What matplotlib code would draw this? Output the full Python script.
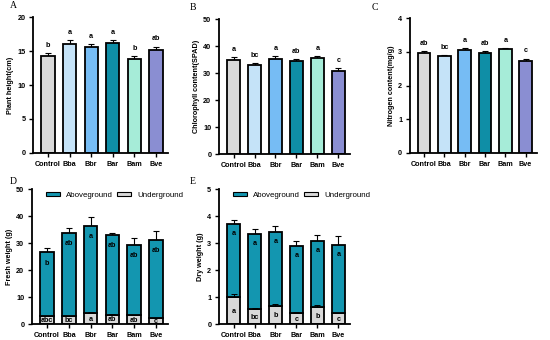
import matplotlib.pyplot as plt
import numpy as np
from matplotlib.patches import Patch

groups = ['Control', 'Bba', 'Bbr', 'Bar', 'Bam', 'Bve']
colors = ['#d9d9d9', '#c5e3f8', '#76bcf4', '#0f8ea6', '#a6ecd8', '#8a8ed2']
above_color = '#1396b0'
under_color = '#d9d9d9'

height = [14.3, 16.1, 15.6, 16.2, 13.8, 15.1]
height_err = [0.35, 0.45, 0.45, 0.45, 0.45, 0.55]
height_sig = ['b', 'a', 'a', 'a', 'b', 'ab']

chloro = [35.0, 32.8, 35.3, 34.3, 35.7, 30.7]
chloro_err = [1.0, 0.8, 1.0, 0.9, 0.7, 1.1]
chloro_sig = ['a', 'bc', 'a', 'ab', 'a', 'c']

nitro = [2.95, 2.86, 3.04, 2.97, 3.07, 2.73]
nitro_err = [0.07, 0.05, 0.06, 0.05, 0.04, 0.07]
nitro_sig = ['ab', 'bc', 'a', 'ab', 'a', 'c']

fresh_total = [26.5, 33.8, 36.4, 33.0, 29.4, 31.2]
fresh_total_err = [1.7, 1.9, 3.4, 0.9, 2.3, 3.1]
fresh_under = [3.0, 2.8, 4.0, 3.4, 3.2, 2.3]
fresh_under_err = [0.15, 0.15, 0.3, 0.15, 0.15, 0.1]
fresh_sig_top = ['b', 'ab', 'a', 'ab', 'ab', 'ab']
fresh_sig_low = ['abc', 'bc', 'a', 'ab', 'ab', 'c']

dry_total = [3.70, 3.32, 3.42, 2.90, 3.07, 2.93]
dry_total_err = [0.17, 0.20, 0.20, 0.18, 0.21, 0.32]
dry_under = [1.00, 0.55, 0.68, 0.40, 0.64, 0.40]
dry_under_err = [0.10, 0.05, 0.07, 0.05, 0.07, 0.02]
dry_sig_top = ['a', 'a', 'a', 'a', 'a', 'a']
dry_sig_low = ['a', 'bc', 'b', 'c', 'b', 'c']

plt.rcParams['font.family'] = ['Liberation Sans', 'DejaVu Sans']
fs = 5.2
x = np.arange(len(groups))
w = 0.62


def style(ax, ymax, step, ylabel):
    for s in ['top', 'right']:
        ax.spines[s].set_visible(False)
    for s in ['left', 'bottom']:
        ax.spines[s].set_linewidth(1.3)
    ax.set_ylim(0, ymax)
    ax.set_yticks(np.arange(0, ymax + step / 2, step))
    ax.set_xlim(-0.7, 5.55)
    ax.set_xticks(x)
    ax.set_xticklabels(groups, fontsize=fs, fontweight='bold')
    for t in ax.get_yticklabels():
        t.set_fontsize(fs)
        t.set_fontweight('bold')
    ax.tick_params(axis='both', width=1.0, length=3, pad=2.5)
    ax.set_ylabel(ylabel, fontsize=fs, fontweight='bold', labelpad=2)


def simple(ax, vals, err, sig, ymax, step, ylabel):
    ax.bar(x, vals, w, color=colors, edgecolor='black', linewidth=1.3, zorder=2)
    ax.errorbar(x, vals, yerr=[np.zeros(6), err], fmt='none', ecolor='black',
                elinewidth=0.8, capsize=2.5, capthick=0.8, zorder=1)
    for xi, v, e, s in zip(x, vals, err, sig):
        ax.text(xi, v + e + ymax * 0.03, s, ha='center', va='bottom',
                fontsize=fs, fontweight='bold')
    style(ax, ymax, step, ylabel)


def stacked(ax, total, total_err, under, under_err, s_top, s_low, ymax, step, ylabel, off):
    above = np.array(total) - np.array(under)
    ax.bar(x, under, w, color=under_color, edgecolor='black', linewidth=1.3, zorder=2)
    ax.bar(x, above, w, bottom=under, color=above_color, edgecolor='black',
           linewidth=1.3, zorder=2)
    ax.errorbar(x, total, yerr=[np.zeros(6), total_err], fmt='none', ecolor='black',
                elinewidth=0.8, capsize=2.5, capthick=0.8, zorder=1)
    ax.errorbar(x, under, yerr=[np.zeros(6), under_err], fmt='none', ecolor='black',
                elinewidth=0.7, capsize=2.0, capthick=0.7, zorder=3)
    for xi, t, u, a, b in zip(x, total, under, s_top, s_low):
        ax.text(xi, t - off, a, ha='center', va='center', fontsize=fs, fontweight='bold')
        ax.text(xi, u * 0.45, b, ha='center', va='center', fontsize=fs, fontweight='bold')
    style(ax, ymax, step, ylabel)
    handles = [Patch(facecolor=above_color, edgecolor='black', linewidth=0.8),
               Patch(facecolor=under_color, edgecolor='black', linewidth=0.8)]
    ax.legend(handles, ['Aboveground', 'Underground'], loc='upper left',
              bbox_to_anchor=(0.05, 1.03), ncol=2, frameon=False, fontsize=fs + 0.5,
              handlelength=1.8, handleheight=0.35, columnspacing=0.5, handletextpad=0.8)


fig = plt.figure(figsize=(5.5, 3.4), dpi=100)
axA = fig.add_axes([0.06, 0.55, 0.245, 0.40])
axB = fig.add_axes([0.398, 0.547, 0.238, 0.397])
axC = fig.add_axes([0.745, 0.55, 0.231, 0.397])
axD = fig.add_axes([0.058, 0.047, 0.247, 0.397])
axE = fig.add_axes([0.398, 0.047, 0.238, 0.397])

simple(axA, height, height_err, height_sig, 20, 5, 'Plant height(cm)')
simple(axB, chloro, chloro_err, chloro_sig, 50, 10, 'Chlorophyll content(SPAD)')
simple(axC, nitro, nitro_err, nitro_sig, 4, 1, 'Nitrogen content(mg/g)')
stacked(axD, fresh_total, fresh_total_err, fresh_under, fresh_under_err,
        fresh_sig_top, fresh_sig_low, 50, 10, 'Fresh weight (g)', 4.0)
stacked(axE, dry_total, dry_total_err, dry_under, dry_under_err,
        dry_sig_top, dry_sig_low, 5, 1, 'Dry weight (g)', 0.35)

for lab, (px, py) in zip('ABCDE', [(10, 6), (190, 8), (372, 8), (10, 182), (190, 182)]):
    fig.text(px / 550, 1 - py / 340, lab, fontsize=7, family='Liberation Serif',
             ha='left', va='center')

fig.savefig('out.png', dpi=100)
